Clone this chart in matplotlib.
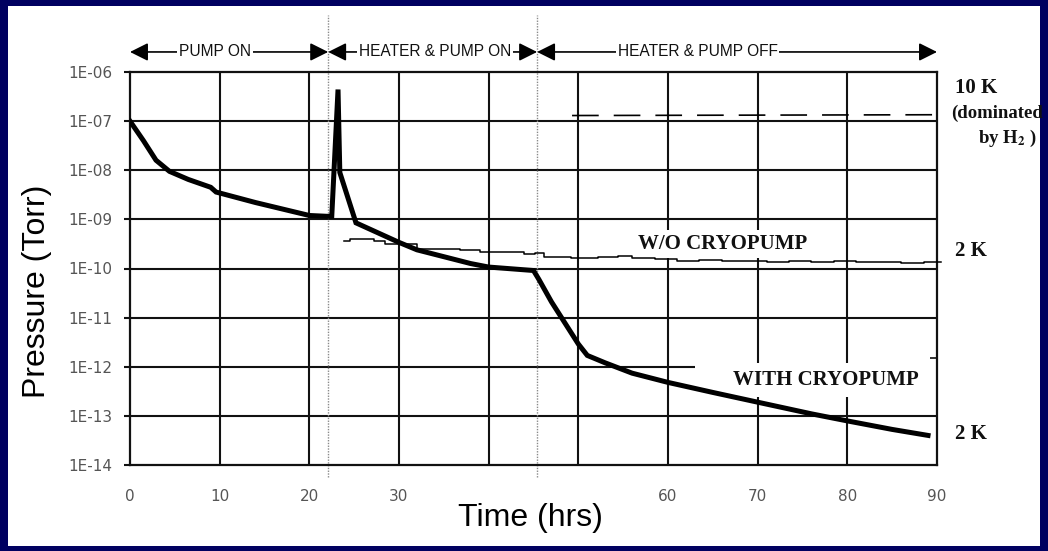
"""Pressure vs time in the cold bore, with and without cryopump."""

import matplotlib as mpl
import matplotlib.pyplot as plt
from matplotlib.patches import Rectangle
from matplotlib.ticker import FixedLocator, FixedFormatter

mpl.use("Agg")

plt.rcParams["mathtext.fontset"] = "stix"

# Data
with_cryo_t = [0, 1.5, 2.9, 4.4, 6.5, 9.0, 9.6, 14.0, 20.0, 22.2, 22.5, 23.2, 23.4,
               25.2, 30.0, 32.0, 38.0, 40.0, 45.0, 45.6, 47.0, 50.0, 51.0, 53.0,
               56.0, 60.0, 65.0, 70.0, 76.0, 80.0, 85.0, 89.0]
with_cryo_p = [1e-7, 4e-8, 1.6e-8, 9.5e-9, 6.5e-9, 4.5e-9, 3.6e-9, 2.2e-9, 1.2e-9,
               1.15e-9, 1.15e-9, 4.4e-7, 9e-9, 8.5e-10, 3.4e-10, 2.4e-10, 1.26e-10,
               1.07e-10, 9.1e-11, 6e-11, 2.1e-11, 2.9e-12, 1.7e-12, 1.2e-12, 7.4e-13,
               4.8e-13, 3.0e-13, 1.9e-13, 1.1e-13, 7.9e-14, 5.3e-14, 4e-14]

without_cryo_t = [23.9, 24.5, 26.0, 27.2, 28.4, 30.0, 32.0, 34.5, 36.8, 39.0, 41.7,
                  43.9, 45.2, 46.2, 49.2, 52.2, 54.4, 56.0, 58.5, 61.0, 63.5, 66.0,
                  68.5, 71.0, 73.5, 76.0, 78.5, 81.0, 83.5, 86.0, 88.5, 90.5]
without_cryo_p = [3.7e-10, 4.0e-10, 3.9e-10, 3.7e-10, 3.2e-10, 3.2e-10, 2.5e-10,
                  2.45e-10, 2.4e-10, 2.15e-10, 2.2e-10, 2.0e-10, 2.05e-10, 1.7e-10,
                  1.6e-10, 1.75e-10, 1.8e-10, 1.6e-10, 1.55e-10, 1.45e-10, 1.5e-10,
                  1.4e-10, 1.45e-10, 1.38e-10, 1.42e-10, 1.35e-10, 1.4e-10, 1.33e-10,
                  1.38e-10, 1.32e-10, 1.36e-10, 1.33e-10]

warm_t = [49.3, 90.6]
warm_p = [1.3e-7, 1.35e-7]

# Phase boundaries (hrs) and phase names
phase_edges = [0, 22.1, 45.4, 90]
phase_names = ["PUMP ON", "HEATER & PUMP ON", "HEATER & PUMP OFF"]
phase_label_x = [9.5, 34.0, 63.3]

x_ticks = [0, 10, 20, 30, 40, 50, 60, 70, 80, 90]
x_tick_labels = ["0", "10", "20", "30", "", "", "60", "70", "80", "90"]
y_ticks = [1e-14, 1e-13, 1e-12, 1e-11, 1e-10, 1e-9, 1e-8, 1e-7, 1e-6]
y_tick_labels = ["1E-14", "1E-13", "1E-12", "1E-11", "1E-10",
                 "1E-09", "1E-08", "1E-07", "1E-06"]

NAVY = "#000060"
INK = "#111111"
SERIF = ["Liberation Serif", "DejaVu Serif"]
SANS = ["Liberation Sans", "DejaVu Sans"]

fig = plt.figure(figsize=(10.48, 5.51), dpi=100, facecolor=NAVY)
fig.patches.append(Rectangle((8 / 1048, 5 / 551), 1032 / 1048, 540 / 551,
                             transform=fig.transFigure, facecolor="white",
                             edgecolor="none", zorder=-5))

ax = fig.add_axes([130 / 1048, 1 - 465 / 551, 807 / 1048, 393 / 551])
ax.set_facecolor("white")
ax.set_yscale("log")
ax.set_xlim(0, 90)
ax.set_ylim(1e-14, 1e-6)

# Grid: verticals everywhere, horizontals by hand (1E-12 row is cut short)
for xt in x_ticks[1:-1]:
    ax.axvline(xt, color=INK, lw=1.5, zorder=1)
for yt in y_ticks[1:-1]:
    x_end = 63 if yt == 1e-12 else 90
    ax.hlines(yt, 0, x_end, color=INK, lw=1.5, zorder=1)
ax.hlines(1.5e-12, 89.2, 90, color=INK, lw=1.2, zorder=1)

for sp in ax.spines.values():
    sp.set_color(INK)
    sp.set_linewidth(1.6)

ax.yaxis.set_major_locator(FixedLocator(y_ticks))
ax.yaxis.set_major_formatter(FixedFormatter(y_tick_labels))
ax.yaxis.set_minor_locator(FixedLocator([]))
ax.xaxis.set_major_locator(FixedLocator(x_ticks))
ax.xaxis.set_major_formatter(FixedFormatter(x_tick_labels))
ax.tick_params(axis="y", length=4, width=1.5, color=INK, pad=9,
               labelsize=11, labelcolor="#555555")
ax.tick_params(axis="x", length=0, pad=17, labelsize=11, labelcolor="#555555")

# Phase boundaries (faint dotted, running past the frame)
for xb in phase_edges[1:-1]:
    ax.axvline(xb, ymin=-0.03, ymax=1.145, color="#8a8a8a", lw=1.0,
               ls=(0, (1, 1)), clip_on=False, zorder=2)

# Curves
ax.plot(with_cryo_t, with_cryo_p, color="black", lw=3.6, solid_joinstyle="miter",
        zorder=4)
ax.plot(without_cryo_t, without_cryo_p, color="black", lw=1.1, drawstyle="steps-post",
        clip_on=False, zorder=4)
warm_line, = ax.plot(warm_t, warm_p, color="black", lw=1.2, clip_on=False, zorder=4)
warm_line.set_dashes((16, 9))

# Phase arrows on top
hdr = ax.get_xaxis_transform()
for x0, x1 in zip(phase_edges[:-1], phase_edges[1:]):
    ax.annotate("", xy=(x1, 1.051), xytext=(x0, 1.051), xycoords=hdr, textcoords=hdr,
                arrowprops=dict(arrowstyle="<|-|>,head_length=1.0,head_width=0.5",
                                color="black", lw=1.2, shrinkA=0, shrinkB=0,
                                mutation_scale=11),
                annotation_clip=False)
for name, xl in zip(phase_names, phase_label_x):
    ax.text(xl, 1.051, name, transform=hdr, ha="center", va="center",
            fontsize=11.2, family=SANS, color=INK, clip_on=False, zorder=5,
            bbox=dict(boxstyle="square,pad=0.12", facecolor="white", edgecolor="none"))

# Curve labels
ax.text(66.1, 3.2e-10, "W/O CRYOPUMP", ha="center", va="center", fontsize=15,
        family=SERIF, fontweight="bold", color=INK, zorder=3,
        bbox=dict(boxstyle="square,pad=0.2", facecolor="white", edgecolor="none"))
ax.text(77.6, 5.4e-13, "WITH CRYOPUMP", ha="center", va="center", fontsize=15,
        family=SERIF, fontweight="bold", color=INK, zorder=3,
        bbox=dict(boxstyle="square,pad=0.35", facecolor="white", edgecolor="none"))

# Temperature notes on the right
right_kw = dict(family=SERIF, fontweight="bold", color=INK, clip_on=False)
ax.text(92.0, 4.7e-7, "10 K", ha="left", va="center", fontsize=15, **right_kw)
ax.text(91.6, 1.45e-7, "(dominated", ha="left", va="center", fontsize=13.5, **right_kw)
ax.text(97.9, 4.5e-8, r"by H$_\mathbf{2}$ )", ha="center", va="center", fontsize=13.5,
        **right_kw)
ax.text(92.0, 2.3e-10, "2 K", ha="left", va="center", fontsize=15, **right_kw)
ax.text(92.0, 4.2e-14, "2 K", ha="left", va="center", fontsize=15, **right_kw)

# Axis titles
fig.text(37 / 1048, 1 - 291 / 551, "Pressure (Torr)", rotation=90, ha="center",
         va="center", fontsize=23, family=SANS, color="black")
fig.text(530 / 1048, 1 - 518 / 551, "Time (hrs)", ha="center", va="center",
         fontsize=23, family=SANS, color="black")

fig.savefig("out.png", dpi=100, facecolor=NAVY)
plt.close(fig)
